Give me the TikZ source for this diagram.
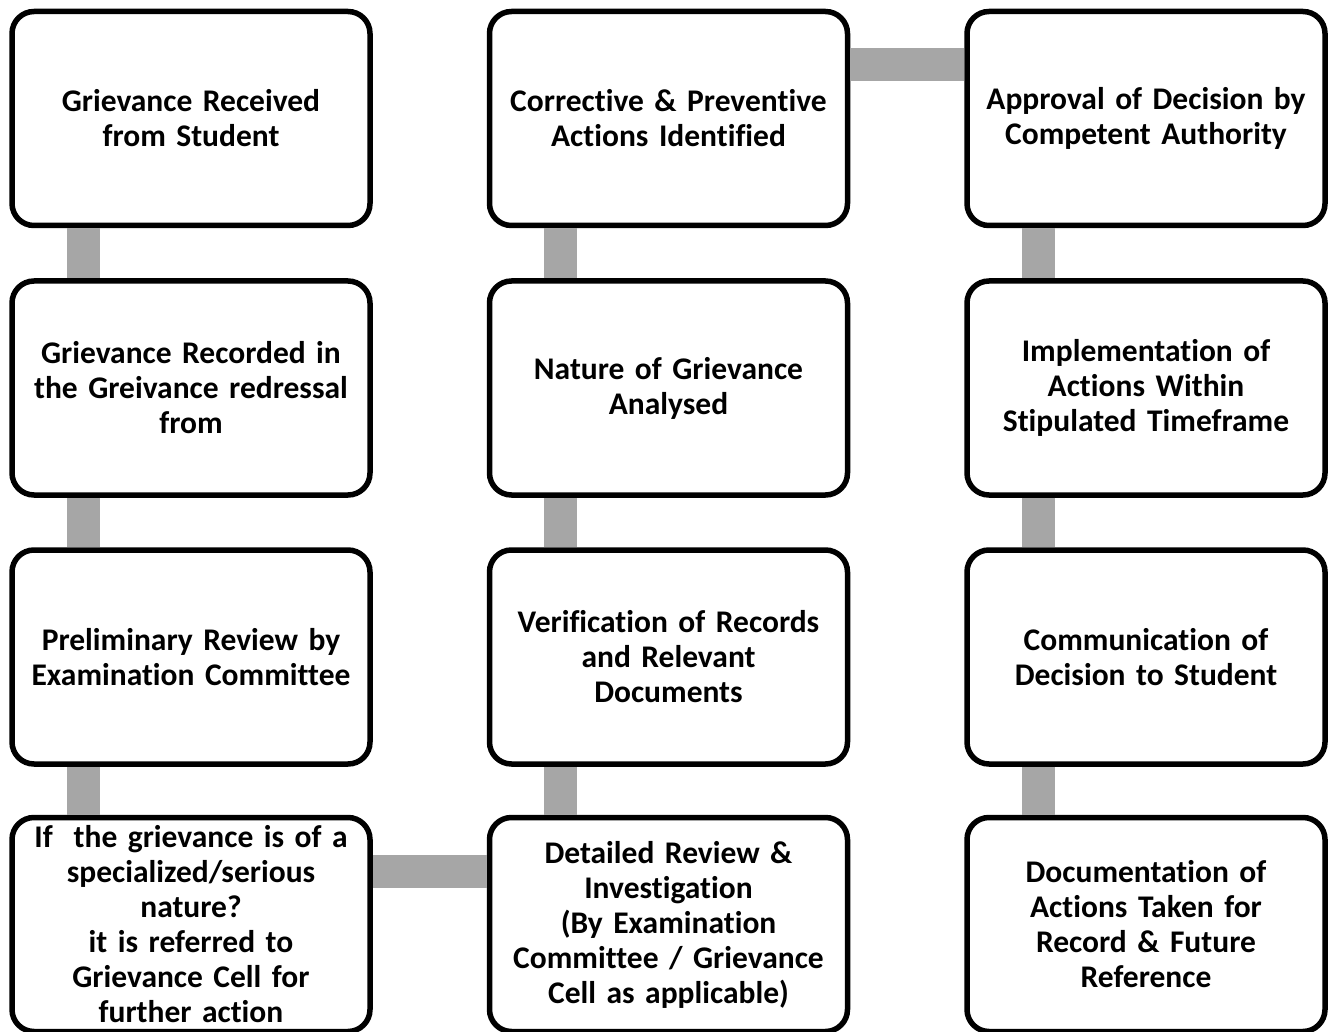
\documentclass[tikz,border=0pt]{standalone}
\usepackage{fontspec}
\setmainfont{Carlito}[Ligatures=NoCommon,WordSpace=0.8]
\definecolor{linkgrey}{HTML}{A6A6A6}
\tikzset{
  stepbox/.style={draw, line width=5.5pt, rounded corners=22pt, fill=white,
    minimum width=358pt, minimum height=214pt, inner sep=0pt, text width=350pt,
    align=center, font=\fontsize{31.5}{35}\selectfont\bfseries},
  link/.style={linkgrey, line width=33pt}
}
\begin{document}
\begin{tikzpicture}[x=1pt,y=-1pt]
    \useasboundingbox (0,0) rectangle (1336,1032);
    % first column, top to bottom
    \node[stepbox] (s1) at (191,118.5) {Grievance Received\\from Student};
    \node[stepbox] (s2) at (191,388) {Grievance Recorded in\\the Greivance redressal\\from};
    \node[stepbox] (s3) at (191,657) {Preliminary Review by\\Examination Committee};
    \node[stepbox] (s4) at (191,924.5) {If\ \ the grievance is of a\\specialized/serious\\nature?\\it is referred to\\Grievance Cell for\\further action};
    % second column, bottom to top
    \node[stepbox] (s5) at (668.5,924.5) {Detailed Review \&\\Investigation\\(By Examination\\Committee / Grievance\\Cell as applicable)};
    \node[stepbox] (s6) at (668.5,657) {Verification of Records\\and Relevant\\Documents};
    \node[stepbox] (s7) at (668.5,388) {Nature of Grievance\\Analysed};
    \node[stepbox] (s8) at (668.5,118.5) {Corrective \& Preventive\\Actions Identified};
    % third column, top to bottom
    \node[stepbox] (s9) at (1146,118.5) {Approval of Decision by\\Competent Authority};
    \node[stepbox] (s10) at (1146,388) {Implementation of\\Actions Within\\Stipulated Timeframe};
    \node[stepbox] (s11) at (1146,657) {Communication of\\Decision to Student};
    \node[stepbox] (s12) at (1146,924.5) {Documentation of\\Actions Taken for\\Record \& Future\\Reference};
    \draw[link] ([xshift=74pt]s1.south west) -- ([xshift=74pt]s2.north west);
    \draw[link] ([xshift=74pt]s2.south west) -- ([xshift=74pt]s3.north west);
    \draw[link] ([xshift=74pt]s3.south west) -- ([xshift=74pt]s4.north west);
    \draw[link] ([yshift=-57pt]s4.north east) -- ([yshift=-57pt]s5.north west);
    \draw[link] ([xshift=74pt]s5.north west) -- ([xshift=74pt]s6.south west);
    \draw[link] ([xshift=74pt]s6.north west) -- ([xshift=74pt]s7.south west);
    \draw[link] ([xshift=74pt]s7.north west) -- ([xshift=74pt]s8.south west);
    \draw[link] ([yshift=-56pt]s8.north east) -- ([yshift=-56pt]s9.north west);
    \draw[link] ([xshift=74pt]s9.south west) -- ([xshift=74pt]s10.north west);
    \draw[link] ([xshift=74pt]s10.south west) -- ([xshift=74pt]s11.north west);
    \draw[link] ([xshift=74pt]s11.south west) -- ([xshift=74pt]s12.north west);
\end{tikzpicture}
\end{document}
